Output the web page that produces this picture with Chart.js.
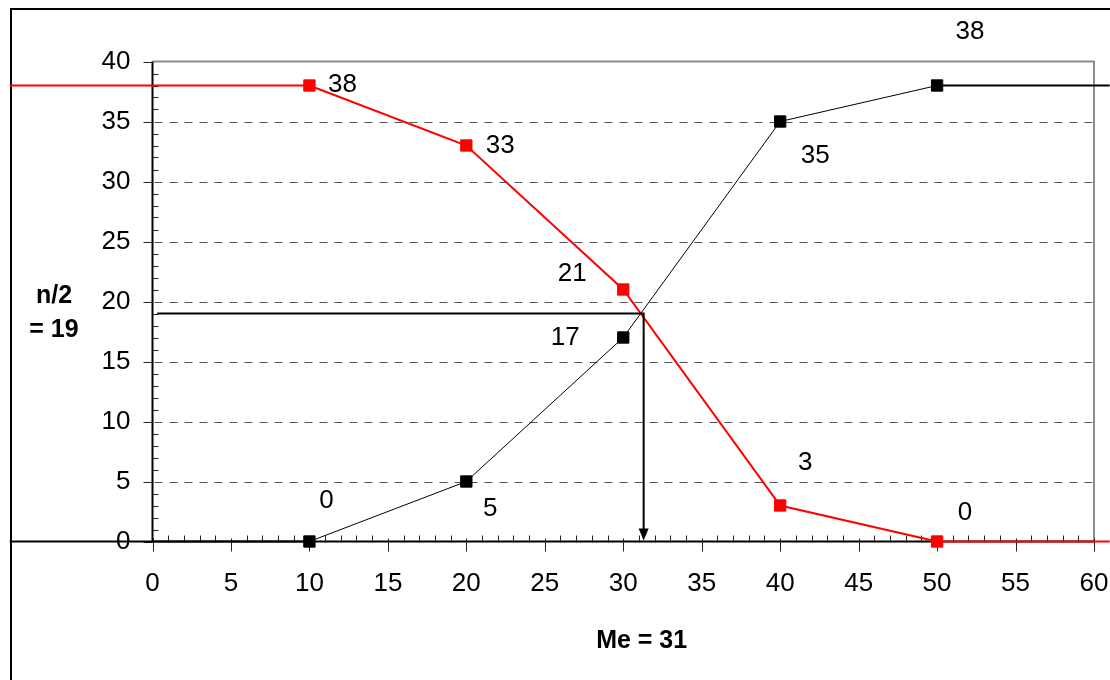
<!DOCTYPE html>
<html>
<head>
<meta charset="utf-8">
<script src="https://cdn.jsdelivr.net/npm/chart.js@4.4.1/dist/chart.umd.min.js"></script>
<style>
  html, body { margin: 0; padding: 0; background: #fff; }
  canvas { display: block; }
</style>
</head>
<body>
<canvas id="medianChart" width="1110" height="680"></canvas>
<script>
// ===== Data
const classBounds = [10, 20, 30, 40, 50];
const cumDown = [38, 33, 21, 3, 0];   // red, decreasing cumulative
const cumUp = [0, 5, 17, 35, 38];     // black, increasing cumulative
const yTicks = [0, 5, 10, 15, 20, 25, 30, 35, 40];
const xTicks = [0, 5, 10, 15, 20, 25, 30, 35, 40, 45, 50, 55, 60];
const halfN = 19;
const medianX = 31.3;
const medianStartX = 0.3;
const leftEdgeX = -9.1;   // lines run out to the frame
const rightEdgeX = 61;
const yTitleLines = ["n/2", "= 19"];
const xTitle = "Me = 31";

// label offsets from each marker (px)
const redLabelOffsets = [[33, -1], [34, 0], [-51, -16], [25, -43], [28, -29]];
const blackLabelOffsets = [[17, -41], [24, 27], [-58, 0], [35, 34], [33, -54]];

const FONT = "'Liberation Sans', Arial, sans-serif";
const toPoints = (xs, ys) => xs.map((v, i) => ({ x: v, y: ys[i] }));

// ===== Excel-like frame, grid, ticks, labels
const decor = {
  id: "decor",
  beforeDatasetsDraw(chart) {
    const { ctx, chartArea: a, scales: { x, y } } = chart;
    ctx.save();
    // outer frame (left + top visible)
    ctx.strokeStyle = "#000";
    ctx.lineWidth = 2;
    ctx.beginPath();
    ctx.moveTo(11, 680);
    ctx.lineTo(11, 9);
    ctx.lineTo(1110, 9);
    ctx.stroke();

    // dashed gridlines
    ctx.strokeStyle = "#555";
    ctx.lineWidth = 1;
    ctx.setLineDash([8, 7]);
    yTicks.slice(1, -1).forEach(v => {
      const py = Math.round(y.getPixelForValue(v)) + 0.5;
      ctx.beginPath();
      ctx.moveTo(a.left + 2, py);
      ctx.lineTo(a.right, py);
      ctx.stroke();
    });
    ctx.setLineDash([]);

    // plot border (grey)
    ctx.strokeStyle = "#8c8c8c";
    ctx.lineWidth = 2;
    ctx.beginPath();
    ctx.moveTo(a.left, a.top);
    ctx.lineTo(a.right, a.top);
    ctx.lineTo(a.right, a.bottom);
    ctx.stroke();

    // axes
    ctx.strokeStyle = "#000";
    ctx.lineWidth = 2;
    ctx.beginPath();
    ctx.moveTo(a.left, a.top);
    ctx.lineTo(a.left, a.bottom);
    ctx.lineTo(a.right, a.bottom);
    ctx.stroke();

    // tick marks
    ctx.lineWidth = 1;
    ctx.strokeStyle = "#222";
    ctx.beginPath();
    for (let v = 0; v <= 40; v++) {
      const py = Math.round(y.getPixelForValue(v)) + 0.5;
      if (v % 5 === 0) { ctx.moveTo(a.left - 9, py); ctx.lineTo(a.left, py); }
      else { ctx.moveTo(a.left, py); ctx.lineTo(a.left + 6, py); }
    }
    for (let v = 0; v <= 60; v++) {
      const px = Math.round(x.getPixelForValue(v)) + 0.5;
      if (v % 5 === 0) { ctx.moveTo(px, a.bottom - 3); ctx.lineTo(px, a.bottom + 10); }
      else { ctx.moveTo(px, a.bottom - 6); ctx.lineTo(px, a.bottom + 1); }
    }
    ctx.stroke();
    ctx.restore();
  },
  afterDatasetsDraw(chart) {
    const { ctx, scales: { x, y } } = chart;
    ctx.save();
    // arrow head at the foot of the median line
    const tx = x.getPixelForValue(medianX);
    const ty = y.getPixelForValue(0) - 1;
    ctx.fillStyle = "#000";
    ctx.beginPath();
    ctx.moveTo(tx, ty);
    ctx.lineTo(tx - 5, ty - 12);
    ctx.lineTo(tx + 5, ty - 12);
    ctx.closePath();
    ctx.fill();

    // point labels
    ctx.font = "26px " + FONT;
    ctx.textAlign = "center";
    ctx.textBaseline = "middle";
    ctx.fillStyle = "#000";
    classBounds.forEach((b, i) => {
      const rx = x.getPixelForValue(b), ry = y.getPixelForValue(cumDown[i]);
      ctx.fillText(String(cumDown[i]), rx + redLabelOffsets[i][0], ry + redLabelOffsets[i][1]);
      const by = y.getPixelForValue(cumUp[i]);
      ctx.fillText(String(cumUp[i]), rx + blackLabelOffsets[i][0], by + blackLabelOffsets[i][1]);
    });

    // bold annotations
    ctx.font = "bold 25px " + FONT;
    ctx.textBaseline = "alphabetic";
    ctx.fillText(yTitleLines[0], 54, 303);
    ctx.fillText(yTitleLines[1], 54, 337);
    ctx.fillText(xTitle, x.getPixelForValue(medianX) - 2, 648);
    ctx.restore();
  }
};

const ctx = document.getElementById("medianChart");
new Chart(ctx, {
  type: "scatter",
  data: {
    datasets: [
      {
        label: "left extension (red)",
        data: toPoints([leftEdgeX, classBounds[0]], [cumDown[0], cumDown[0]]),
        showLine: true, borderColor: "#ff0000", borderWidth: 2, pointRadius: 0, clip: false
      },
      {
        label: "right extension (red)",
        data: toPoints([classBounds[4], rightEdgeX], [cumDown[4], cumDown[4]]),
        showLine: true, borderColor: "#ff0000", borderWidth: 2, pointRadius: 0, clip: false
      },
      {
        label: "left extension (black)",
        data: toPoints([leftEdgeX, classBounds[0]], [cumUp[0], cumUp[0]]),
        showLine: true, borderColor: "#000", borderWidth: 2, pointRadius: 0, clip: false
      },
      {
        label: "right extension (black)",
        data: toPoints([classBounds[4], rightEdgeX], [cumUp[4], cumUp[4]]),
        showLine: true, borderColor: "#000", borderWidth: 2, pointRadius: 0, clip: false
      },
      {
        label: "median",
        data: toPoints([medianStartX, medianX, medianX], [halfN, halfN, 0.9]),
        showLine: true, borderColor: "#000", borderWidth: 2, pointRadius: 0, clip: false
      },
      {
        label: "cumulative down",
        data: toPoints(classBounds, cumDown),
        showLine: true, borderColor: "#ff0000", borderWidth: 2,
        pointStyle: "rect", pointRadius: 8, pointBackgroundColor: "#ff0000",
        pointBorderColor: "#ff0000", pointBorderWidth: 1, clip: false
      },
      {
        label: "cumulative up",
        data: toPoints(classBounds, cumUp),
        showLine: true, borderColor: "#000", borderWidth: 1,
        pointStyle: "rect", pointRadius: 8, pointBackgroundColor: "#000",
        pointBorderColor: "#000", pointBorderWidth: 1, clip: false
      }
    ]
  },
  options: {
    responsive: false,
    animation: false,
    layout: { padding: { left: 0, top: 61.5, right: 16, bottom: 0 } },
    plugins: { legend: { display: false }, tooltip: { enabled: false } },
    scales: {
      x: {
        type: "linear", min: 0, max: 60,
        afterBuildTicks: s => { s.ticks = xTicks.map(v => ({ value: v })); },
        afterFit: s => { s.height = 138.5; s.paddingLeft = 0; s.paddingRight = 0; },
        grid: { display: false, drawTicks: false },
        border: { display: false },
        ticks: { color: "#000", padding: 27, maxRotation: 0, autoSkip: false, font: { family: FONT, size: 26 } }
      },
      y: {
        type: "linear", min: 0, max: 40,
        afterBuildTicks: s => { s.ticks = yTicks.map(v => ({ value: v })); },
        afterFit: s => { s.width = 152.5; s.paddingTop = 0; s.paddingBottom = 0; },
        grid: { display: false, drawTicks: false },
        border: { display: false },
        ticks: { color: "#000", padding: 22, font: { family: FONT, size: 26 } }
      }
    }
  },
  plugins: [decor]
});
</script>
</body>
</html>
